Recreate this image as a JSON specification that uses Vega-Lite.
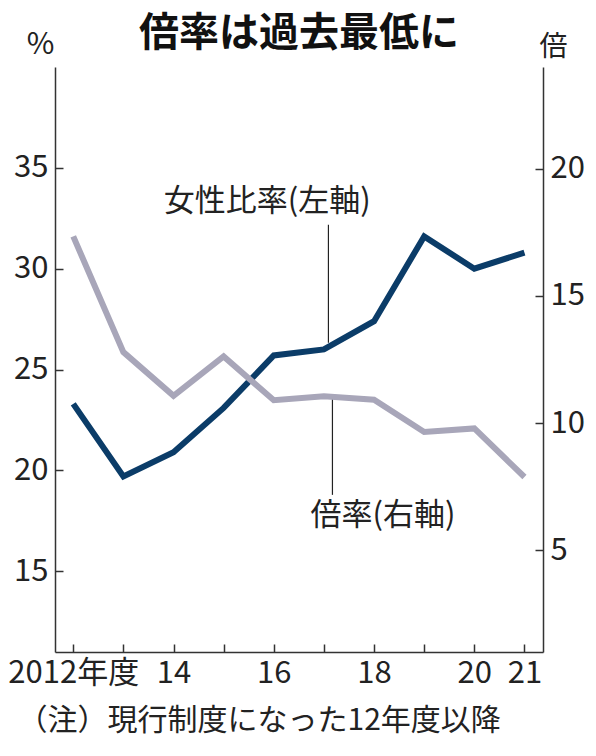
{
  "$schema": "https://vega.github.io/schema/vega-lite/v6.json",
  "width": 488,
  "height": 585,
  "autosize": {"type": "none"},
  "padding": {"left": 55, "top": 67, "right": 53, "bottom": 104},
  "background": "white",
  "title": {
    "text": "倍率は過去最低に",
    "font": "Noto Sans CJK JP",
    "fontSize": 40,
    "fontWeight": "bold",
    "color": "#111111",
    "anchor": "middle",
    "offset": -25
  },
  "datasets": {
    "series": [
      {"year": 2012, "ratio": 23.3, "rate": 17.34},
      {"year": 2013, "ratio": 19.7, "rate": 12.79},
      {"year": 2014, "ratio": 20.9, "rate": 11.07},
      {"year": 2015, "ratio": 23.1, "rate": 12.62},
      {"year": 2016, "ratio": 25.7, "rate": 10.9},
      {"year": 2017, "ratio": 26.0, "rate": 11.05},
      {"year": 2018, "ratio": 27.4, "rate": 10.92},
      {"year": 2019, "ratio": 31.6, "rate": 9.65},
      {"year": 2020, "ratio": 30.0, "rate": 9.79},
      {"year": 2021, "ratio": 30.8, "rate": 7.88}
    ],
    "notes": [
      {"label": "女性比率(左軸)", "year": 2015.87, "value": 33.32},
      {"label": "倍率(右軸)", "year": 2018.18, "value": 17.75}
    ],
    "leaders": [
      {"year": 2017.09, "from": 32.18, "to": 26.33},
      {"year": 2017.17, "from": 23.7, "to": 18.79}
    ]
  },
  "layer": [
    {
      "layer": [
        {
          "data": {"name": "series"},
          "mark": {"type": "line", "color": "#0b3c68", "strokeWidth": 6},
          "encoding": {
            "x": {
              "field": "year",
              "type": "quantitative",
              "scale": {"domain": [2011.636, 2021.37], "nice": false, "zero": false},
              "axis": {
                "values": [2012, 2013, 2014, 2015, 2016, 2017, 2018, 2019, 2020, 2021],
                "labelExpr": "datum.value == 2012 ? '2012年度' : (datum.value == 2014 || datum.value == 2016 || datum.value == 2018 || datum.value == 2020 || datum.value == 2021) ? format(datum.value % 100, 'd') : ''",
                "labelOverlap": false,
                "labelBound": false,
                "labelFlush": false,
                "grid": false,
                "tickSize": -8,
                "labelPadding": 14,
                "title": "（注）現行制度になった12年度以降",
                "titleFont": "Noto Sans CJK JP",
                "titleFontSize": 30,
                "titleFontWeight": "normal",
                "titleColor": "#222222",
                "titleX": -38,
                "titleY": 68,
                "titleAlign": "left",
                "titleAnchor": "start",
                "titleBaseline": "middle"
              }
            },
            "y": {
              "field": "ratio",
              "type": "quantitative",
              "title": "%",
              "scale": {"domain": [11, 40], "nice": false, "zero": false},
              "axis": {
                "values": [15, 20, 25, 30, 35],
                "grid": false,
                "tickSize": -8,
                "labelPadding": 15,
                "titleAngle": 0,
                "titleX": -15,
                "titleY": -23,
                "titleAlign": "center",
                "titleBaseline": "middle",
                "titleFont": "Noto Sans CJK JP",
                "titleFontSize": 30,
                "titleFontWeight": "normal",
                "titleColor": "#222222"
              }
            }
          }
        },
        {
          "data": {"name": "leaders"},
          "mark": {"type": "rule", "color": "#222222", "strokeWidth": 1.2},
          "encoding": {
            "x": {"field": "year", "type": "quantitative"},
            "y": {"field": "from", "type": "quantitative", "title": "%"},
            "y2": {"field": "to"}
          }
        },
        {
          "data": {"name": "notes"},
          "mark": {
            "type": "text",
            "font": "Noto Sans CJK JP",
            "fontSize": 31,
            "color": "#222222",
            "align": "center",
            "baseline": "middle"
          },
          "encoding": {
            "x": {"field": "year", "type": "quantitative"},
            "y": {"field": "value", "type": "quantitative", "title": "%"},
            "text": {"field": "label"}
          }
        }
      ]
    },
    {
      "data": {"name": "series"},
      "mark": {"type": "line", "color": "#a8a6b9", "strokeWidth": 6},
      "encoding": {
        "x": {"field": "year", "type": "quantitative"},
        "y": {
          "field": "rate",
          "type": "quantitative",
          "title": "倍",
          "scale": {"domain": [1, 24], "nice": false, "zero": false},
          "axis": {
            "orient": "right",
            "values": [5, 10, 15, 20],
            "grid": false,
            "tickSize": -8,
            "labelPadding": 15,
            "titleAngle": 0,
            "titleX": 10,
            "titleY": -20,
            "titleAlign": "center",
            "titleBaseline": "middle",
            "titleFont": "Noto Sans CJK JP",
            "titleFontSize": 28,
            "titleFontWeight": "normal",
            "titleColor": "#222222"
          }
        }
      }
    }
  ],
  "resolve": {"scale": {"y": "independent"}},
  "config": {
    "view": {"stroke": null},
    "axis": {
      "labelFont": "Noto Sans CJK JP",
      "labelFontSize": 31,
      "labelColor": "#222222",
      "domainColor": "#333333",
      "domainWidth": 1.5,
      "tickColor": "#333333",
      "tickWidth": 1.5
    }
  }
}
